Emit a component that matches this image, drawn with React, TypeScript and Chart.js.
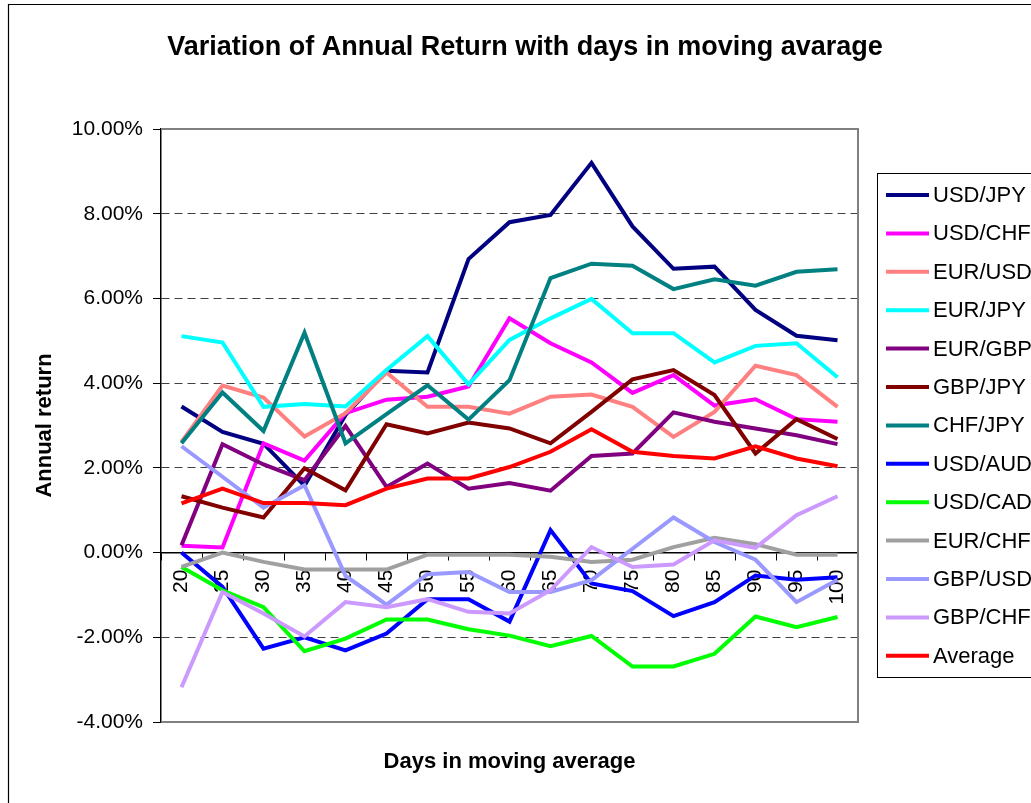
import React, { useEffect, useRef } from 'react';
import { Chart, registerables } from 'chart.js';

Chart.register(...registerables);

const categories = ['20', '25', '30', '35', '40', '45', '50', '55', '60', '65', '70', '75', '80', '85', '90', '95', '100'];

const usdJpy = [3.45, 2.85, 2.57, 1.58, 3.25, 4.29, 4.25, 6.93, 7.8, 7.97, 9.2, 7.7, 6.7, 6.75, 5.73, 5.12, 5.01];
const usdChf = [0.16, 0.12, 2.58, 2.17, 3.29, 3.61, 3.68, 3.92, 5.53, 4.94, 4.49, 3.77, 4.19, 3.47, 3.62, 3.15, 3.09];
const eurUsd = [2.61, 3.94, 3.66, 2.74, 3.29, 4.25, 3.44, 3.44, 3.28, 3.68, 3.73, 3.44, 2.73, 3.32, 4.41, 4.19, 3.44];
const eurJpy = [5.11, 4.96, 3.44, 3.51, 3.45, 4.31, 5.11, 3.97, 5.02, 5.53, 5.99, 5.18, 5.18, 4.49, 4.88, 4.94, 4.14];
const eurGbp = [0.17, 2.56, 2.08, 1.71, 2.99, 1.55, 2.1, 1.51, 1.64, 1.46, 2.28, 2.34, 3.31, 3.09, 2.93, 2.77, 2.56];
const gbpJpy = [1.33, 1.06, 0.83, 1.99, 1.47, 3.03, 2.81, 3.07, 2.93, 2.58, 3.32, 4.09, 4.31, 3.72, 2.34, 3.15, 2.68];
const chfJpy = [2.58, 3.78, 2.87, 5.19, 2.58, 3.27, 3.95, 3.14, 4.07, 6.48, 6.82, 6.77, 6.22, 6.45, 6.3, 6.63, 6.69];
const usdAud = [0.0, -0.81, -2.27, -2.0, -2.31, -1.91, -1.1, -1.1, -1.63, 0.53, -0.73, -0.91, -1.5, -1.17, -0.54, -0.64, -0.58];
const usdCad = [-0.34, -0.89, -1.29, -2.33, -2.03, -1.58, -1.58, -1.81, -1.96, -2.21, -1.97, -2.69, -2.69, -2.39, -1.51, -1.76, -1.52];
const eurChf = [-0.34, 0.0, -0.22, -0.4, -0.4, -0.4, -0.05, -0.05, -0.05, -0.1, -0.22, -0.17, 0.13, 0.35, 0.2, -0.05, -0.05];
const gbpUsd = [2.51, 1.79, 1.06, 1.59, -0.55, -1.23, -0.51, -0.46, -0.93, -0.93, -0.65, 0.09, 0.83, 0.25, -0.17, -1.17, -0.64];
const gbpChf = [-3.18, -0.93, -1.44, -1.98, -1.17, -1.29, -1.1, -1.4, -1.44, -0.89, 0.13, -0.34, -0.28, 0.29, 0.11, 0.88, 1.33];
const average = [1.16, 1.51, 1.17, 1.17, 1.12, 1.51, 1.75, 1.75, 2.02, 2.38, 2.91, 2.38, 2.28, 2.22, 2.51, 2.22, 2.04];

const seriesNames = ['USD/JPY', 'USD/CHF', 'EUR/USD', 'EUR/JPY', 'EUR/GBP', 'GBP/JPY', 'CHF/JPY', 'USD/AUD', 'USD/CAD', 'EUR/CHF', 'GBP/USD', 'GBP/CHF', 'Average'];
const seriesColors = ['#000080', '#FF00FF', '#FF8080', '#00FFFF', '#800080', '#800000', '#008080', '#0000FF', '#00FF00', '#A0A0A0', '#9999FF', '#CC99FF', '#FF0000'];

const chartTitle = 'Variation of Annual Return with days in moving avarage';
const xTitle = 'Days in moving average';
const yTitle = 'Annual return';

const FONT = '"Liberation Sans", Arial, sans-serif';

export default function App() {
  const ref = useRef<HTMLCanvasElement>(null);

  useEffect(() => {
    const seriesValues = [usdJpy, usdChf, eurUsd, eurJpy, eurGbp, gbpJpy, chfJpy, usdAud, usdCad, eurChf, gbpUsd, gbpChf, average];
    const datasets = seriesNames.map((name, i) => ({
      label: name,
      data: seriesValues[i],
      borderColor: seriesColors[i],
      backgroundColor: seriesColors[i],
      borderWidth: 4,
      pointRadius: 0,
      pointHoverRadius: 0,
      tension: 0,
      fill: false,
      order: seriesNames.length - i,
    }));

    const decor = {
      id: 'decor',
      beforeDatasetsDraw(chart: any) {
        const { ctx, chartArea: a } = chart;
        ctx.save();
        ctx.strokeStyle = '#808080';
        ctx.lineWidth = 2;
        ctx.beginPath();
        ctx.moveTo(a.left, a.top);
        ctx.lineTo(a.right, a.top);
        ctx.lineTo(a.right, a.bottom);
        ctx.lineTo(a.left, a.bottom);
        ctx.stroke();
        ctx.restore();
      },
      afterDraw(chart: any) {
        const { ctx, chartArea: a } = chart;
        ctx.save();
        // outer chart border
        ctx.strokeStyle = '#000';
        ctx.lineWidth = 1.2;
        ctx.beginPath();
        ctx.moveTo(8.5, 803);
        ctx.lineTo(8.5, 4.5);
        ctx.lineTo(1031, 4.5);
        ctx.stroke();

        ctx.fillStyle = '#000';
        ctx.textBaseline = 'middle';
        ctx.textAlign = 'center';
        ctx.font = `bold 27px ${FONT}`;
        ctx.fillText(chartTitle, 525, 48);

        ctx.font = `bold 22px ${FONT}`;
        ctx.fillText(xTitle, (a.left + a.right) / 2, 762);
        ctx.save();
        ctx.translate(45, (a.top + a.bottom) / 2);
        ctx.rotate(-Math.PI / 2);
        ctx.fillText(yTitle, 0, 0);
        ctx.restore();

        // legend
        const lx = 877, ly = 173, lb = 677;
        ctx.fillStyle = '#fff';
        ctx.fillRect(lx, ly, 1031 - lx + 10, lb - ly);
        ctx.strokeStyle = '#000';
        ctx.lineWidth = 1;
        ctx.strokeRect(lx + 0.5, ly + 0.5, 1031 - lx + 10, lb - ly);
        ctx.textAlign = 'left';
        ctx.font = `22px ${FONT}`;
        chart.data.datasets.forEach((ds: any, i: number) => {
          const y = 195 + i * 38.4;
          ctx.strokeStyle = ds.borderColor;
          ctx.lineWidth = 4;
          ctx.beginPath();
          ctx.moveTo(886, y);
          ctx.lineTo(929, y);
          ctx.stroke();
          ctx.fillStyle = '#000';
          ctx.fillText(ds.label, 933, y + 1);
        });
        ctx.restore();
      },
    };

    const chart = new Chart(ref.current as HTMLCanvasElement, {
      type: 'line',
      data: { labels: categories, datasets: datasets as any },
      options: {
        responsive: false,
        animation: false,
        devicePixelRatio: 1,
        layout: { padding: { left: 0, top: 129, right: 173, bottom: 81 } },
        plugins: {
          legend: { display: false },
          title: { display: false },
          tooltip: { enabled: false },
        },
        scales: {
          x: {
            type: 'category',
            offset: true,
            position: { y: 0 } as any,
            afterFit: (s: any) => {
              s.height = 0;
            },
            grid: {
              display: true,
              drawOnChartArea: false,
              drawTicks: true,
              tickLength: 7,
              offset: true,
              color: '#000',
              tickColor: '#000',
              tickWidth: 1,
            },
            border: { display: true, color: '#000', width: 1.5 },
            ticks: {
              autoSkip: false,
              minRotation: 90,
              maxRotation: 90,
              padding: 10,
              color: '#000',
              font: { family: FONT, size: 21 },
            },
          },
          y: {
            type: 'linear',
            min: -4,
            max: 10,
            position: 'left',
            afterFit: (s: any) => {
              s.width = 161;
            },
            ticks: {
              stepSize: 2,
              color: '#000',
              padding: 10,
              font: { family: FONT, size: 21 },
              callback: (v: any) => Number(v).toFixed(2) + '%',
            },
            grid: {
              color: (c: any) => {
                const v = c.tick ? c.tick.value : null;
                return v === 10 || v === -4 || v === 0 ? 'rgba(0,0,0,0)' : '#404040';
              },
              lineWidth: 1,
              tickLength: 8,
              tickColor: '#000',
              tickWidth: 1,
              drawTicks: true,
            },
            border: { display: true, color: '#000', width: 1.5, dash: [8, 5] },
          },
        },
      } as any,
      plugins: [decor],
    });
    return () => chart.destroy();
  }, []);

  return (
    <div style={{ position: 'absolute', left: 0, top: 0, width: 1031, height: 803, background: '#fff' }}>
      <canvas ref={ref} width={1031} height={803} style={{ display: 'block' }} />
    </div>
  );
}
